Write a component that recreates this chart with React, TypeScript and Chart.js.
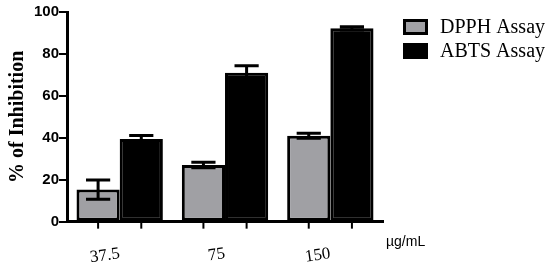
import React, { useEffect, useRef } from "react";
import { Chart, registerables } from "chart.js";

Chart.register(...registerables);

const categories = ["37.5", "75", "150"];
const seriesNames = ["DPPH Assay", "ABTS Assay"];
const dpphValues = [15.3, 27.0, 41.0];
const dpphErrors = [4.6, 1.3, 1.2];
const abtsValues = [39.4, 71.0, 92.2];
const abtsErrors = [1.7, 3.4, 0.8];
const yTicks = [0, 20, 40, 60, 80, 100];

const SERIF = "'Liberation Serif', 'Times New Roman', serif";
const SANS = "'Liberation Sans', Arial, sans-serif";

const errorBarPlugin = {
  id: "errorBars",
  afterDatasetsDraw(chart: any) {
    const ctx = chart.ctx;
    const yScale = chart.scales.y;
    const errs = [dpphErrors, abtsErrors];
    ctx.save();
    ctx.strokeStyle = "#000";
    ctx.lineWidth = 3;
    chart.data.datasets.forEach((ds: any, di: number) => {
      const meta = chart.getDatasetMeta(di);
      meta.data.forEach((bar: any, i: number) => {
        const v = ds.data[i];
        const e = errs[di][i];
        const x = bar.x;
        const yTop = yScale.getPixelForValue(v + e);
        const yBot = yScale.getPixelForValue(v - e);
        const cap = bar.width * 0.28;
        ctx.beginPath();
        ctx.moveTo(x, yTop);
        ctx.lineTo(x, yBot);
        ctx.moveTo(x - cap, yTop);
        ctx.lineTo(x + cap, yTop);
        ctx.moveTo(x - cap, yBot);
        ctx.lineTo(x + cap, yBot);
        ctx.stroke();
      });
    });
    // x-axis tick marks under each bar
    const bottom = chart.chartArea.bottom;
    ctx.lineWidth = 2;
    chart.data.datasets.forEach((_ds: any, di: number) => {
      const meta = chart.getDatasetMeta(di);
      meta.data.forEach((bar: any) => {
        ctx.beginPath();
        ctx.moveTo(bar.x, bottom);
        ctx.lineTo(bar.x, bottom + 7);
        ctx.stroke();
      });
    });
    // unit label
    ctx.fillStyle = "#000";
    ctx.font = `14px ${SANS}`;
    ctx.textAlign = "left";
    ctx.textBaseline = "middle";
    ctx.fillText("µg/mL", chart.chartArea.right + 3, bottom + 20);

    // legend
    const lx = chart.chartArea.right + 20;
    const ly = 19;
    ctx.font = `20px ${SERIF}`;
    ctx.textBaseline = "middle";
    chart.data.datasets.forEach((ds: any, di: number) => {
      const y = ly + di * 24;
      ctx.fillStyle = ds.backgroundColor;
      ctx.fillRect(lx, y, 25, 16);
      ctx.strokeStyle = "#000";
      ctx.lineWidth = 3;
      ctx.strokeRect(lx + 1.5, y + 1.5, 22, 13);
      ctx.fillStyle = "#000";
      ctx.fillText(seriesNames[di], lx + 37, y + 9);
    });
    ctx.restore();
  },
};

export default function App() {
  const ref = useRef<HTMLCanvasElement>(null);
  useEffect(() => {
    if (!ref.current) return;
    const chart = new Chart(ref.current, {
      type: "bar",
      data: {
        labels: categories,
        datasets: [
          {
            label: seriesNames[0],
            data: dpphValues,
            backgroundColor: "#a0a0a4",
            borderColor: "#000",
            borderWidth: 3,
            borderSkipped: false,
          },
          {
            label: seriesNames[1],
            data: abtsValues,
            backgroundColor: "#000",
            borderColor: "#000",
            borderWidth: 3,
            borderSkipped: false,
          },
        ],
      },
      options: {
        animation: false,
        responsive: false,
        layout: { padding: { left: 6, top: 12, right: 167, bottom: -18 } },
        datasets: { bar: { categoryPercentage: 0.82, barPercentage: 1.0 } },
        plugins: {
          tooltip: { enabled: false },
          legend: { display: false },
        },
        scales: {
          x: {
            grid: { display: false, drawTicks: false },
            border: { display: true, color: "#000", width: 3 },
            ticks: {
              color: "#000",
              font: { family: SERIF, size: 17 },
              minRotation: 8,
              maxRotation: 8,
              padding: 22,
            },
          },
          y: {
            min: 0,
            max: 100,
            afterBuildTicks(axis: any) {
              axis.ticks = yTicks.map((v) => ({ value: v }));
            },
            grid: {
              drawOnChartArea: false,
              drawTicks: true,
              tickLength: 8,
              color: "#000",
              lineWidth: 2,
            },
            border: { display: true, color: "#000", width: 3 },
            ticks: {
              color: "#000",
              padding: 0,
              font: { family: SANS, size: 15, weight: "bold" },
            },
            title: {
              display: true,
              text: "% of Inhibition",
              color: "#000",
              font: { family: SERIF, size: 20, weight: "bold" },
              padding: { top: 0, bottom: 4 },
            },
          },
        },
      },
      plugins: [errorBarPlugin],
    } as any);
    return () => chart.destroy();
  }, []);
  return (
    <div style={{ position: "fixed", left: 0, top: 0, width: 550, height: 272, background: "#fff" }}>
      <canvas ref={ref} width={550} height={272} />
    </div>
  );
}
